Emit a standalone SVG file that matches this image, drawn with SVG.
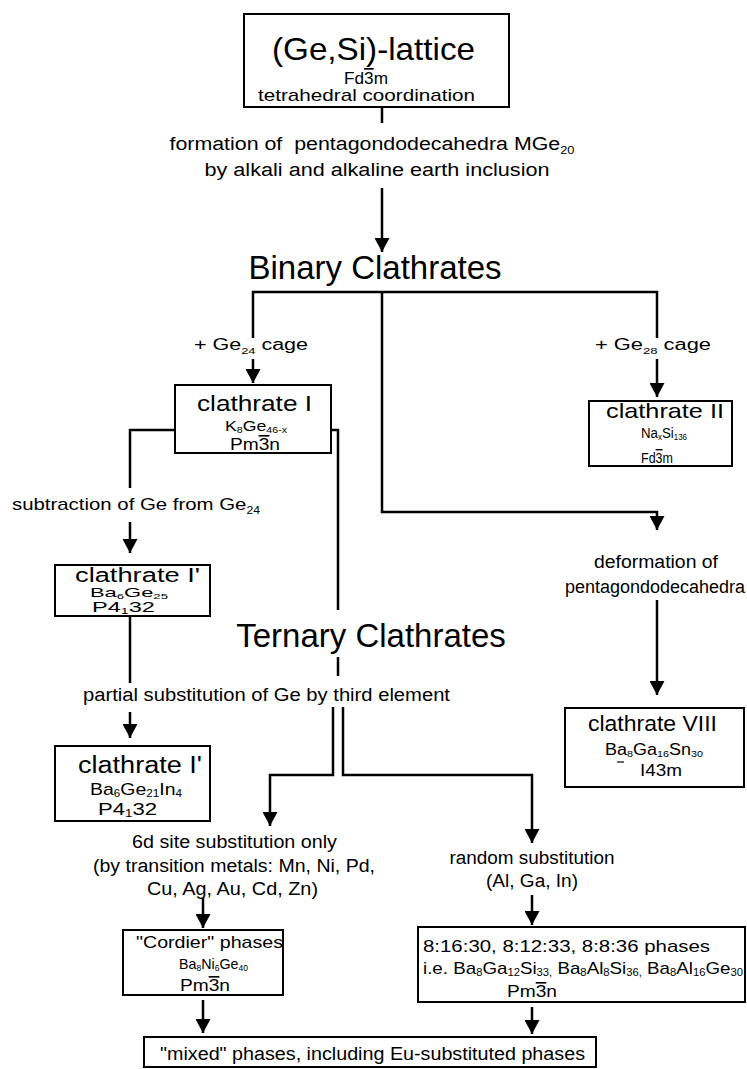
<svg xmlns="http://www.w3.org/2000/svg" width="747" height="1069" viewBox="0 0 747 1069">
<defs>
<style>
text{font-family:'Liberation Sans',Arial,sans-serif;fill:#000;text-anchor:middle}
.st{text-anchor:start}
.box{fill:#fff;stroke:#000;stroke-width:2}
.c{fill:none;stroke:#000;stroke-width:2.5}
.ol{text-decoration:overline}
.s{font-size:60%}
</style>
<marker id="ah" markerUnits="userSpaceOnUse" viewBox="0 0 14 15" markerWidth="14" markerHeight="15" refX="14" refY="7.5" orient="auto"><path d="M0,0 L14,7.5 L0,15 z" fill="#000"/></marker>
</defs>
<rect width="747" height="1069" fill="#fff"/>

<g id="connectors">
<path class="c" d="M382,107 V123"/>
<path class="c" d="M382,188 V252" marker-end="url(#ah)"/>
<path class="c" d="M253,338 V292 H657 V338"/>
<path class="c" d="M253,359 V383" marker-end="url(#ah)"/>
<path class="c" d="M657,359 V397" marker-end="url(#ah)"/>
<path class="c" d="M382,292 V512 H657 V530" marker-end="url(#ah)"/>
<path class="c" d="M175,430 H130 V488"/>
<path class="c" d="M130,522 V553" marker-end="url(#ah)"/>
<path class="c" d="M331,430 H338 V610"/>
<path class="c" d="M338,657 V676"/>
<path class="c" d="M130,616 V683"/>
<path class="c" d="M130,712 V738" marker-end="url(#ah)"/>
<path class="c" d="M333,707 V775 H270 V826" marker-end="url(#ah)"/>
<path class="c" d="M343,707 V775 H532 V843" marker-end="url(#ah)"/>
<path class="c" d="M657,600 V695" marker-end="url(#ah)"/>
<path class="c" d="M203,898 V928" marker-end="url(#ah)"/>
<path class="c" d="M203,1000 V1033" marker-end="url(#ah)"/>
<path class="c" d="M532,895 V925" marker-end="url(#ah)"/>
<path class="c" d="M532,1007 V1034" marker-end="url(#ah)"/>
</g>

<g id="lattice">
<rect class="box" x="244" y="14" width="265" height="93"/>
<text x="373.5" y="60" font-size="32" textLength="203" lengthAdjust="spacingAndGlyphs">(Ge,Si)-lattice</text>
<text x="366" y="84" font-size="17" textLength="44" lengthAdjust="spacingAndGlyphs">Fd<tspan class="ol">3</tspan>m</text>
<text x="366.5" y="101" font-size="17" textLength="217" lengthAdjust="spacingAndGlyphs">tetrahedral coordination</text>
</g>

<g id="formation-label">
<text x="372" y="150" font-size="18" textLength="405" lengthAdjust="spacingAndGlyphs" xml:space="preserve">formation of  pentagondodecahedra MGe<tspan class="s" dy="4">20</tspan></text>
<text x="377" y="176" font-size="18" textLength="345" lengthAdjust="spacingAndGlyphs">by alkali and alkaline earth inclusion</text>
</g>

<g id="binary">
<text x="375" y="279" font-size="33">Binary Clathrates</text>
</g>

<g id="ge24-label">
<text x="251" y="350" font-size="16" textLength="114" lengthAdjust="spacingAndGlyphs">+ Ge<tspan class="s" dy="4">24</tspan><tspan dy="-4"> cage</tspan></text>
</g>
<g id="ge28-label">
<text x="653" y="350" font-size="16" textLength="116" lengthAdjust="spacingAndGlyphs">+ Ge<tspan class="s" dy="4">28</tspan><tspan dy="-4"> cage</tspan></text>
</g>

<g id="clathrate-I">
<rect class="box" x="175" y="385" width="156" height="68"/>
<text x="254.5" y="411" font-size="22" textLength="115" lengthAdjust="spacingAndGlyphs">clathrate I</text>
<text x="256" y="431" font-size="15" textLength="62" lengthAdjust="spacingAndGlyphs">K<tspan class="s" dy="2">8</tspan><tspan dy="-2">Ge</tspan><tspan class="s" dy="2">46-x</tspan></text>
<text x="255" y="450" font-size="16" textLength="50" lengthAdjust="spacingAndGlyphs">Pm<tspan class="ol">3</tspan>n</text>
</g>

<g id="clathrate-II">
<rect class="box" x="589" y="401" width="143" height="65"/>
<text x="665" y="418" font-size="21" textLength="118" lengthAdjust="spacingAndGlyphs">clathrate II</text>
<text x="664" y="438" font-size="14" textLength="46" lengthAdjust="spacingAndGlyphs">Na<tspan class="s" dy="2">x</tspan><tspan dy="-2">Si</tspan><tspan class="s" dy="2">136</tspan></text>
<text x="657" y="463" font-size="14" textLength="32" lengthAdjust="spacingAndGlyphs">Fd<tspan class="ol">3</tspan>m</text>
</g>

<g id="subtraction-label">
<text x="136" y="510" font-size="17" textLength="248" lengthAdjust="spacingAndGlyphs">subtraction of Ge from Ge<tspan class="s" dy="4">24</tspan></text>
</g>

<g id="clathrate-I-prime-1">
<rect class="box" x="55" y="565" width="155" height="51"/>
<text x="137.5" y="582" font-size="20" textLength="125" lengthAdjust="spacingAndGlyphs">clathrate I'</text>
<text x="129" y="597" font-size="13" textLength="78" lengthAdjust="spacingAndGlyphs">Ba<tspan class="s" dy="2">6</tspan><tspan dy="-2">Ge</tspan><tspan class="s" dy="2">25</tspan></text>
<text x="123.5" y="612" font-size="14" textLength="63" lengthAdjust="spacingAndGlyphs">P4<tspan class="s" dy="2">1</tspan><tspan dy="-2">32</tspan></text>
</g>

<g id="deformation-label">
<text x="656" y="568" font-size="18" textLength="124" lengthAdjust="spacingAndGlyphs">deformation of</text>
<text x="655" y="593" font-size="18" textLength="180" lengthAdjust="spacingAndGlyphs">pentagondodecahedra</text>
</g>

<g id="ternary">
<text x="371" y="647" font-size="33">Ternary Clathrates</text>
</g>

<g id="partial-label">
<text x="266.5" y="701" font-size="18" textLength="367" lengthAdjust="spacingAndGlyphs">partial substitution of Ge by third element</text>
</g>

<g id="clathrate-I-prime-2">
<rect class="box" x="55" y="746" width="155" height="75"/>
<text x="140" y="773" font-size="23" textLength="124" lengthAdjust="spacingAndGlyphs">clathrate I'</text>
<text x="136" y="795" font-size="17" textLength="92" lengthAdjust="spacingAndGlyphs">Ba<tspan class="s" dy="2">6</tspan><tspan dy="-2">Ge</tspan><tspan class="s" dy="2">21</tspan><tspan dy="-2">In</tspan><tspan class="s" dy="2">4</tspan></text>
<text x="127.5" y="815" font-size="17" textLength="59" lengthAdjust="spacingAndGlyphs">P4<tspan class="s" dy="2">1</tspan><tspan dy="-2">32</tspan></text>
</g>

<g id="clathrate-VIII">
<rect class="box" x="565" y="708" width="179" height="79"/>
<text x="652.5" y="731" font-size="22" textLength="129" lengthAdjust="spacingAndGlyphs">clathrate VIII</text>
<text x="654" y="755" font-size="16" textLength="98" lengthAdjust="spacingAndGlyphs">Ba<tspan class="s" dy="2">8</tspan><tspan dy="-2">Ga</tspan><tspan class="s" dy="2">16</tspan><tspan dy="-2">Sn</tspan><tspan class="s" dy="2">30</tspan></text>
<line x1="617" y1="762" x2="624" y2="762" stroke="#000" stroke-width="1.2"/>
<text x="661" y="776" font-size="17" textLength="42" lengthAdjust="spacingAndGlyphs">I43m</text>
</g>

<g id="6d-label">
<text x="234.5" y="848" font-size="18" textLength="205" lengthAdjust="spacingAndGlyphs">6d site substitution only</text>
<text x="234" y="872" font-size="18" textLength="282" lengthAdjust="spacingAndGlyphs">(by transition metals: Mn, Ni, Pd,</text>
<text x="232.5" y="895" font-size="18" textLength="171" lengthAdjust="spacingAndGlyphs">Cu, Ag, Au, Cd, Zn)</text>
</g>

<g id="random-label">
<text x="532" y="864" font-size="18" textLength="165" lengthAdjust="spacingAndGlyphs">random substitution</text>
<text x="532" y="887" font-size="18" textLength="92" lengthAdjust="spacingAndGlyphs">(Al, Ga, In)</text>
</g>

<g id="cordier">
<rect class="box" x="123" y="930" width="160" height="65"/>
<text class="st" x="136" y="948" font-size="17" textLength="147" lengthAdjust="spacingAndGlyphs">"Cordier" phases</text>
<text x="213.5" y="969" font-size="15" textLength="69" lengthAdjust="spacingAndGlyphs">Ba<tspan class="s" dy="2">8</tspan><tspan dy="-2">Ni</tspan><tspan class="s" dy="2">6</tspan><tspan dy="-2">Ge</tspan><tspan class="s" dy="2">40</tspan></text>
<text x="205" y="991" font-size="16" textLength="50" lengthAdjust="spacingAndGlyphs">Pm<tspan class="ol">3</tspan>n</text>
</g>

<g id="ternary-phases">
<rect class="box" x="418" y="927" width="327" height="75"/>
<text class="st" x="423" y="952" font-size="17" textLength="287" lengthAdjust="spacingAndGlyphs">8:16:30, 8:12:33, 8:8:36 phases</text>
<text class="st" x="423" y="974" font-size="17" textLength="320" lengthAdjust="spacingAndGlyphs">i.e. Ba<tspan class="s" dy="2">8</tspan><tspan dy="-2">Ga</tspan><tspan class="s" dy="2">12</tspan><tspan dy="-2">Si</tspan><tspan class="s" dy="2">33,</tspan><tspan dy="-2"> Ba</tspan><tspan class="s" dy="2">8</tspan><tspan dy="-2">Al</tspan><tspan class="s" dy="2">8</tspan><tspan dy="-2">Si</tspan><tspan class="s" dy="2">36,</tspan><tspan dy="-2">  Ba</tspan><tspan class="s" dy="2">8</tspan><tspan dy="-2">Al</tspan><tspan class="s" dy="2">16</tspan><tspan dy="-2">Ge</tspan><tspan class="s" dy="2">30</tspan></text>
<text x="532" y="997" font-size="16" textLength="50" lengthAdjust="spacingAndGlyphs">Pm<tspan class="ol">3</tspan>n</text>
</g>

<g id="mixed">
<rect class="box" x="144" y="1037" width="452" height="30"/>
<text class="st" x="160" y="1060" font-size="18" textLength="425" lengthAdjust="spacingAndGlyphs">"mixed" phases, including Eu-substituted phases</text>
</g>
</svg>
